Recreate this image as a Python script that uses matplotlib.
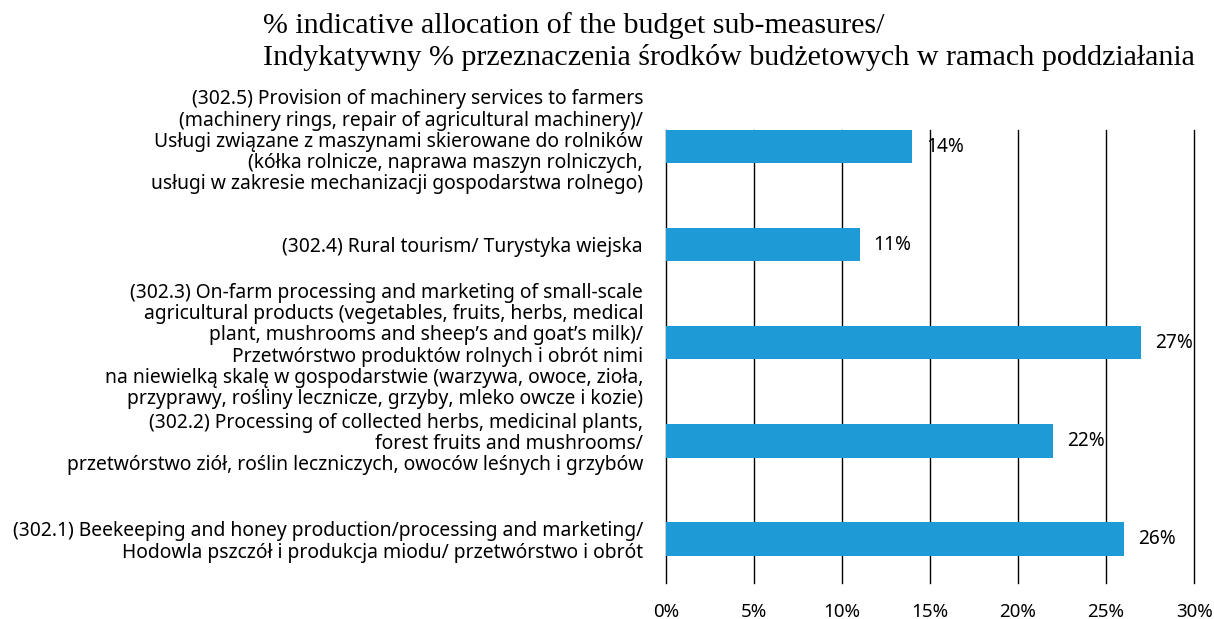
import matplotlib.pyplot as plt
import matplotlib
from matplotlib.transforms import ScaledTranslation

matplotlib.rcParams['font.family'] = ['Noto Sans', 'DejaVu Sans']

# bottom to top
labels = [
    "(302.1) Beekeeping and honey production/processing and marketing/\n"
    "Hodowla pszczół i produkcja miodu/ przetwórstwo i obrót",
    "(302.2) Processing of collected herbs, medicinal plants,\n"
    "forest fruits and mushrooms/\n"
    "przetwórstwo ziół, roślin leczniczych, owoców leśnych i grzybów",
    "(302.3) On-farm processing and marketing of small-scale\n"
    "agricultural products (vegetables, fruits, herbs, medical\n"
    "plant, mushrooms and sheep’s and goat’s milk)/\n"
    "Przetwórstwo produktów rolnych i obrót nimi\n"
    "na niewielką skalę w gospodarstwie (warzywa, owoce, zioła,\n"
    "przyprawy, rośliny lecznicze, grzyby, mleko owcze i kozie)",
    "(302.4) Rural tourism/ Turystyka wiejska",
    "(302.5) Provision of machinery services to farmers\n"
    "(machinery rings, repair of agricultural machinery)/\n"
    "Usługi związane z maszynami skierowane do rolników\n"
    "(kółka rolnicze, naprawa maszyn rolniczych,\n"
    "usługi w zakresie mechanizacji gospodarstwa rolnego)",
]
values = [26, 22, 27, 11, 14]
ticks = [0, 5, 10, 15, 20, 25, 30]

fig = plt.figure(figsize=(12.14, 6.19), dpi=100)
ax = fig.add_axes([0.5486, 0.058, 0.435, 0.732])

pos = list(range(len(values)))
ax.barh(pos, values, height=0.34, color='#1E9BD7', zorder=2)
for p, v in zip(pos, values):
    ax.text(v + 0.8, p, f"{v}%", va='center', ha='left', fontsize=13.8)

ax.set_xlim(0, 30)
ax.set_ylim(-0.45, 4.17)
ax.set_xticks(ticks)
ax.set_xticklabels([f"{t}%" for t in ticks], fontsize=13.5)
ax.set_yticks(pos)
ax.set_yticklabels(labels, fontsize=13.9, linespacing=1.08)
ax.tick_params(length=0, pad=14)
ax.tick_params(axis='y', pad=16.5)
ax.grid(axis='x', color='black', linewidth=1, zorder=1)
for gl in ax.get_xgridlines():
    gl.set_clip_on(False)
for s in ax.spines.values():
    s.set_visible(False)

# the top label sits a bit above its bar in the original
top = ax.get_yticklabels()[-1]
top.set_transform(top.get_transform() + ScaledTranslation(0, 0.08, fig.dpi_scale_trans))

fig.text(0.2166, 0.98,
         "% indicative allocation of the budget sub-measures/\n"
         "Indykatywny % przeznaczenia środków budżetowych w ramach poddziałania",
         ha='left', va='top', fontsize=21.6, family='Liberation Serif', linespacing=1.2)

plt.savefig('out.png')
